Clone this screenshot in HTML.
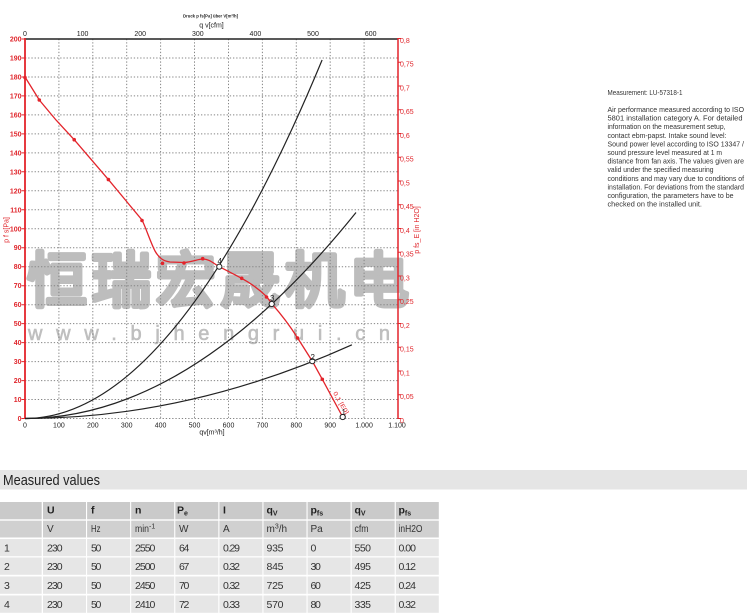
<!DOCTYPE html>
<html><head><meta charset="utf-8"><style>
html,body{margin:0;padding:0;background:#fff;}
svg{display:block;}
text{font-family:"Liberation Sans",Arial,sans-serif;}
</style></head><body>
<svg width="750" height="615" viewBox="0 0 750 615" xmlns="http://www.w3.org/2000/svg">
<rect width="750" height="615" fill="#fff"/>

<!-- watermark -->
<text x="27" y="302" font-family="'Noto Sans CJK SC','WenQuanYi Zen Hei',sans-serif" font-weight="700" font-size="60" fill="#bdbdbd" stroke="#bdbdbd" stroke-width="3" stroke-linejoin="round" textLength="382" lengthAdjust="spacing">恒瑞宏晟机电</text>
<text x="28" y="340" font-size="20" fill="#bfbfbf" stroke="#bfbfbf" stroke-width="0.6" textLength="362" lengthAdjust="spacing">www.bjhengrui.cn</text>

<!-- grid -->
<path d="M58.9 39V418.5M92.8 39V418.5M126.7 39V418.5M160.6 39V418.5M194.5 39V418.5M228.5 39V418.5M262.4 39V418.5M296.3 39V418.5M330.2 39V418.5M364.1 39V418.5" stroke="#858585" stroke-width="1" stroke-dasharray="1.3 1.9" fill="none"/>
<path d="M25 418.5H398M25 399.5H398M25 380.6H398M25 361.6H398M25 342.6H398M25 323.6H398M25 304.7H398M25 285.7H398M25 266.7H398M25 247.7H398M25 228.8H398M25 209.8H398M25 190.8H398M25 171.8H398M25 152.9H398M25 133.9H398M25 114.9H398M25 95.9H398M25 77H398M25 58H398" stroke="#858585" stroke-width="1" stroke-dasharray="1.3 1.9" fill="none"/>

<!-- axes -->
<path d="M25 39H398" stroke="#222" stroke-width="1.6"/>
<path d="M25 38V419" stroke="#e3242b" stroke-width="1.8"/>
<path d="M398 38V419" stroke="#e3242b" stroke-width="1.5"/>
<path d="M21.5 418.5H25M21.5 399.5H25M21.5 380.6H25M21.5 361.6H25M21.5 342.6H25M21.5 323.6H25M21.5 304.7H25M21.5 285.7H25M21.5 266.7H25M21.5 247.7H25M21.5 228.8H25M21.5 209.8H25M21.5 190.8H25M21.5 171.8H25M21.5 152.9H25M21.5 133.9H25M21.5 114.9H25M21.5 95.9H25M21.5 77H25M21.5 58H25M21.5 39H25" stroke="#e3242b" stroke-width="1"/>
<path d="M398 418.5H401M398 394.75H401M398 371H401M398 347.25H401M398 323.5H401M398 299.75H401M398 276H401M398 252.25H401M398 228.5H401M398 204.75H401M398 181H401M398 157.25H401M398 133.5H401M398 109.75H401M398 86H401M398 62.25H401M398 38.5H401" stroke="#e3242b" stroke-width="1"/>

<!-- left labels -->
<g font-size="7" fill="#e0262c" text-anchor="end" font-weight="700">
<text x="21.5" y="421">0</text><text x="21.5" y="402">10</text><text x="21.5" y="383">20</text><text x="21.5" y="364.1">30</text><text x="21.5" y="345.1">40</text><text x="21.5" y="326.1">50</text><text x="21.5" y="307.2">60</text><text x="21.5" y="288.2">70</text><text x="21.5" y="269.2">80</text><text x="21.5" y="250.2">90</text><text x="21.5" y="231.3">100</text><text x="21.5" y="212.3">110</text><text x="21.5" y="193.3">120</text><text x="21.5" y="174.3">130</text><text x="21.5" y="155.4">140</text><text x="21.5" y="136.4">150</text><text x="21.5" y="117.4">160</text><text x="21.5" y="98.4">170</text><text x="21.5" y="79.5">180</text><text x="21.5" y="60.5">190</text><text x="21.5" y="41.5">200</text>
</g>
<text transform="translate(8.5,230) rotate(-90)" font-size="7" fill="#e0262c" text-anchor="middle">p f s[Pa]</text>

<!-- right labels -->
<g font-size="7" fill="#e0262c">
<text x="400" y="423">0</text><text x="400" y="399.2">0,05</text><text x="400" y="375.5">0,1</text><text x="400" y="351.7">0,15</text><text x="400" y="328">0,2</text><text x="400" y="304.2">0,25</text><text x="400" y="280.5">0,3</text><text x="400" y="256.7">0,35</text><text x="400" y="233">0,4</text><text x="400" y="209.2">0,45</text><text x="400" y="185.5">0,5</text><text x="400" y="161.7">0,55</text><text x="400" y="138">0,6</text><text x="400" y="114.2">0,65</text><text x="400" y="90.5">0,7</text><text x="400" y="66.7">0,75</text><text x="400" y="43">0,8</text>
</g>
<text transform="translate(419,230) rotate(-90)" font-size="7" fill="#e0262c" text-anchor="middle">p fs_E [in H2O]</text>

<!-- bottom labels -->
<g font-size="7" fill="#222" text-anchor="middle">
<text x="25" y="427.5">0</text><text x="58.9" y="427.5">100</text><text x="92.8" y="427.5">200</text><text x="126.7" y="427.5">300</text><text x="160.6" y="427.5">400</text><text x="194.5" y="427.5">500</text><text x="228.5" y="427.5">600</text><text x="262.4" y="427.5">700</text><text x="296.3" y="427.5">800</text><text x="330.2" y="427.5">900</text><text x="364.1" y="427.5">1.000</text><text x="397" y="427.5">1.100</text>
<text x="212" y="434.5">qv[m³/h]</text>
</g>

<!-- top labels -->
<g font-size="7" fill="#222" text-anchor="middle">
<text x="25" y="36">0</text><text x="82.6" y="36">100</text><text x="140.2" y="36">200</text><text x="197.8" y="36">300</text><text x="255.4" y="36">400</text><text x="313" y="36">500</text><text x="370.7" y="36">600</text>
<text x="211.5" y="27.5">q v[cfm]</text>
</g>
<text x="183" y="17.3" font-size="4.5" font-weight="700" fill="#222" textLength="55" lengthAdjust="spacingAndGlyphs">Druck p fs[Pa] über V[m³/h]</text>

<!-- system curves -->
<g stroke="#222" stroke-width="1.2" fill="none">
<path d="M25 418.5Q173.5 418.5 322.1 60"/>
<path d="M25 418.5Q190.5 418.5 356 212.5"/>
<path d="M25 418.5Q188.4 418.5 351.9 344.8"/>
</g>

<!-- fan curve -->
<path d="M25 77L39.3 100L56 120L74.2 139.7L108.4 179.6L142 220C146 228 150 241 155 251C159 258 163 261 170 262L184 262.5C192 262 198 259 203 259C209 259 213 263 219.3 266.7L241.7 278.3C252 284 260 290 266.7 296.7L272.3 304.3C280 313 290 326 297.3 337.5L312.5 361.5L322.3 379.3L342.7 417" stroke="#e3242b" stroke-width="1.3" fill="none"/>
<g fill="#e3242b">
<circle cx="25" cy="77.5" r="1.8"/><circle cx="39.3" cy="100" r="1.8"/><circle cx="74.2" cy="139.7" r="1.8"/><circle cx="108.4" cy="179.6" r="1.8"/><circle cx="142" cy="220.5" r="1.8"/><circle cx="162.5" cy="263.3" r="1.8"/><circle cx="184" cy="263" r="1.8"/><circle cx="202.7" cy="258.7" r="1.8"/><circle cx="241.7" cy="278.3" r="1.8"/><circle cx="266.5" cy="297" r="1.8"/><circle cx="297.5" cy="338" r="1.8"/><circle cx="322.3" cy="379.3" r="1.8"/>
</g>
<text transform="translate(333,393) rotate(60)" font-size="6" fill="#e3242b" textLength="25" lengthAdjust="spacingAndGlyphs">0,1 [E0]</text>

<!-- operating points -->
<g stroke="#222" stroke-width="1" fill="#fff">
<circle cx="219.3" cy="266.7" r="2.6"/><circle cx="271.7" cy="304" r="2.6"/><circle cx="312.3" cy="361.2" r="2.6"/><circle cx="342.7" cy="417" r="2.6"/>
</g>
<g font-size="8" fill="#222">
<text x="217.5" y="264">4</text><text x="270" y="301">3</text><text x="310.5" y="360">2</text><text x="341.5" y="415">1</text>
</g>

<!-- right text -->
<g font-size="7.5" fill="#333">
<text x="607.5" y="95" textLength="75" lengthAdjust="spacingAndGlyphs">Measurement: LU-57318-1</text>
<text x="607.5" y="112" textLength="136.5" lengthAdjust="spacingAndGlyphs">Air performance measured according to ISO</text>
<text x="607.5" y="120.6" textLength="135" lengthAdjust="spacingAndGlyphs">5801 installation category A. For detailed</text>
<text x="607.5" y="129.2" textLength="118" lengthAdjust="spacingAndGlyphs">information on the measurement setup,</text>
<text x="607.5" y="137.8" textLength="119" lengthAdjust="spacingAndGlyphs">contact ebm-papst. Intake sound level:</text>
<text x="607.5" y="146.4" textLength="136.5" lengthAdjust="spacingAndGlyphs">Sound power level according to ISO 13347 /</text>
<text x="607.5" y="155" textLength="114.5" lengthAdjust="spacingAndGlyphs">sound pressure level measured at 1 m</text>
<text x="607.5" y="163.6" textLength="136.5" lengthAdjust="spacingAndGlyphs">distance from fan axis. The values given are</text>
<text x="607.5" y="172.2" textLength="106" lengthAdjust="spacingAndGlyphs">valid under the specified measuring</text>
<text x="607.5" y="180.8" textLength="136.5" lengthAdjust="spacingAndGlyphs">conditions and may vary due to conditions of</text>
<text x="607.5" y="189.4" textLength="136.5" lengthAdjust="spacingAndGlyphs">installation. For deviations from the standard</text>
<text x="607.5" y="198" textLength="126" lengthAdjust="spacingAndGlyphs">configuration, the parameters have to be</text>
<text x="607.5" y="206.6" textLength="94.4" lengthAdjust="spacingAndGlyphs">checked on the installed unit.</text>
</g>

<!-- Measured values band -->
<rect x="0" y="470" width="747" height="19.5" fill="#e5e5e5"/>
<text x="3" y="485" font-size="15" fill="#222" textLength="97" lengthAdjust="spacingAndGlyphs">Measured values</text>

<!-- table cells -->
<g fill="#cacaca">
<rect x="0" y="502" width="41.7" height="17.3"/><rect x="43" y="502" width="43" height="17.3"/><rect x="87.1" y="502" width="43" height="17.3"/><rect x="131.2" y="502" width="43" height="17.3"/><rect x="175.3" y="502" width="43" height="17.3"/><rect x="219.4" y="502" width="43" height="17.3"/><rect x="263.5" y="502" width="43" height="17.3"/><rect x="307.6" y="502" width="43" height="17.3"/><rect x="351.7" y="502" width="43" height="17.3"/><rect x="395.8" y="502" width="43" height="17.3"/>
</g>
<g fill="#d0d0d0">
<rect x="0" y="520.7" width="41.7" height="16.8"/><rect x="43" y="520.7" width="43" height="16.8"/><rect x="87.1" y="520.7" width="43" height="16.8"/><rect x="131.2" y="520.7" width="43" height="16.8"/><rect x="175.3" y="520.7" width="43" height="16.8"/><rect x="219.4" y="520.7" width="43" height="16.8"/><rect x="263.5" y="520.7" width="43" height="16.8"/><rect x="307.6" y="520.7" width="43" height="16.8"/><rect x="351.7" y="520.7" width="43" height="16.8"/><rect x="395.8" y="520.7" width="43" height="16.8"/>
</g>
<g fill="#e6e6e6">
<rect x="0" y="539" width="41.7" height="17.2"/><rect x="43" y="539" width="43" height="17.2"/><rect x="87.1" y="539" width="43" height="17.2"/><rect x="131.2" y="539" width="43" height="17.2"/><rect x="175.3" y="539" width="43" height="17.2"/><rect x="219.4" y="539" width="43" height="17.2"/><rect x="263.5" y="539" width="43" height="17.2"/><rect x="307.6" y="539" width="43" height="17.2"/><rect x="351.7" y="539" width="43" height="17.2"/><rect x="395.8" y="539" width="43" height="17.2"/>
<rect x="0" y="557.5" width="41.7" height="17.3"/><rect x="43" y="557.5" width="43" height="17.3"/><rect x="87.1" y="557.5" width="43" height="17.3"/><rect x="131.2" y="557.5" width="43" height="17.3"/><rect x="175.3" y="557.5" width="43" height="17.3"/><rect x="219.4" y="557.5" width="43" height="17.3"/><rect x="263.5" y="557.5" width="43" height="17.3"/><rect x="307.6" y="557.5" width="43" height="17.3"/><rect x="351.7" y="557.5" width="43" height="17.3"/><rect x="395.8" y="557.5" width="43" height="17.3"/>
<rect x="0" y="576.5" width="41.7" height="17.3"/><rect x="43" y="576.5" width="43" height="17.3"/><rect x="87.1" y="576.5" width="43" height="17.3"/><rect x="131.2" y="576.5" width="43" height="17.3"/><rect x="175.3" y="576.5" width="43" height="17.3"/><rect x="219.4" y="576.5" width="43" height="17.3"/><rect x="263.5" y="576.5" width="43" height="17.3"/><rect x="307.6" y="576.5" width="43" height="17.3"/><rect x="351.7" y="576.5" width="43" height="17.3"/><rect x="395.8" y="576.5" width="43" height="17.3"/>
<rect x="0" y="595.5" width="41.7" height="17.3"/><rect x="43" y="595.5" width="43" height="17.3"/><rect x="87.1" y="595.5" width="43" height="17.3"/><rect x="131.2" y="595.5" width="43" height="17.3"/><rect x="175.3" y="595.5" width="43" height="17.3"/><rect x="219.4" y="595.5" width="43" height="17.3"/><rect x="263.5" y="595.5" width="43" height="17.3"/><rect x="307.6" y="595.5" width="43" height="17.3"/><rect x="351.7" y="595.5" width="43" height="17.3"/><rect x="395.8" y="595.5" width="43" height="17.3"/>
</g>

<!-- table header text -->
<g font-size="10.5" font-weight="700" fill="#222">
<text x="47" y="513.5">U</text>
<text x="91" y="513.5">f</text>
<text x="135" y="513.5">n</text>
<text x="177" y="513.5">P<tspan font-size="7" dy="2">e</tspan></text>
<text x="223" y="513.5">I</text>
<text x="266.5" y="513.5">q<tspan font-size="7" dy="2">V</tspan></text>
<text x="310.5" y="513.5">p<tspan font-size="7" dy="2">fs</tspan></text>
<text x="354.5" y="513.5">q<tspan font-size="7" dy="2">V</tspan></text>
<text x="398.5" y="513.5">p<tspan font-size="7" dy="2">fs</tspan></text>
</g>
<g font-size="10" fill="#333">
<text x="47" y="532">V</text>
<text x="91" y="532" textLength="9.5" lengthAdjust="spacingAndGlyphs">Hz</text>
<text x="135" y="532"><tspan textLength="14" lengthAdjust="spacingAndGlyphs">min</tspan><tspan font-size="7" dy="-3.5">-1</tspan></text>
<text x="179" y="532">W</text>
<text x="223" y="532">A</text>
<text x="266.5" y="532">m<tspan font-size="7" dy="-3.5">3</tspan><tspan dy="3.5">/h</tspan></text>
<text x="310.5" y="532">Pa</text>
<text x="354.5" y="532" textLength="14" lengthAdjust="spacingAndGlyphs">cfm</text>
<text x="398.5" y="532" textLength="24" lengthAdjust="spacingAndGlyphs">inH2O</text>
</g>

<!-- table data -->
<g font-size="10.5" fill="#333" lengthAdjust="spacingAndGlyphs">
<text x="4" y="551.5">1</text><text x="47" y="551.5" textLength="15.6">230</text><text x="91" y="551.5" textLength="10.4">50</text><text x="135" y="551.5" textLength="20.4">2550</text><text x="179" y="551.5" textLength="10.4">64</text><text x="223" y="551.5" textLength="17">0.29</text><text x="266.5" y="551.5" textLength="17">935</text><text x="310.5" y="551.5">0</text><text x="354.5" y="551.5" textLength="16.5">550</text><text x="398.5" y="551.5" textLength="17.5">0.00</text>
<text x="4" y="570">2</text><text x="47" y="570" textLength="15.6">230</text><text x="91" y="570" textLength="10.4">50</text><text x="135" y="570" textLength="20.4">2500</text><text x="179" y="570" textLength="10.4">67</text><text x="223" y="570" textLength="17">0.32</text><text x="266.5" y="570" textLength="17">845</text><text x="310.5" y="570" textLength="10.4">30</text><text x="354.5" y="570" textLength="16.5">495</text><text x="398.5" y="570" textLength="17.5">0.12</text>
<text x="4" y="589">3</text><text x="47" y="589" textLength="15.6">230</text><text x="91" y="589" textLength="10.4">50</text><text x="135" y="589" textLength="20.4">2450</text><text x="179" y="589" textLength="10.4">70</text><text x="223" y="589" textLength="17">0.32</text><text x="266.5" y="589" textLength="17">725</text><text x="310.5" y="589" textLength="10.4">60</text><text x="354.5" y="589" textLength="16.5">425</text><text x="398.5" y="589" textLength="17.5">0.24</text>
<text x="4" y="608">4</text><text x="47" y="608" textLength="15.6">230</text><text x="91" y="608" textLength="10.4">50</text><text x="135" y="608" textLength="20.4">2410</text><text x="179" y="608" textLength="10.4">72</text><text x="223" y="608" textLength="17">0.33</text><text x="266.5" y="608" textLength="17">570</text><text x="310.5" y="608" textLength="10.4">80</text><text x="354.5" y="608" textLength="16.5">335</text><text x="398.5" y="608" textLength="17.5">0.32</text>
</g>
</svg>
</body></html>
